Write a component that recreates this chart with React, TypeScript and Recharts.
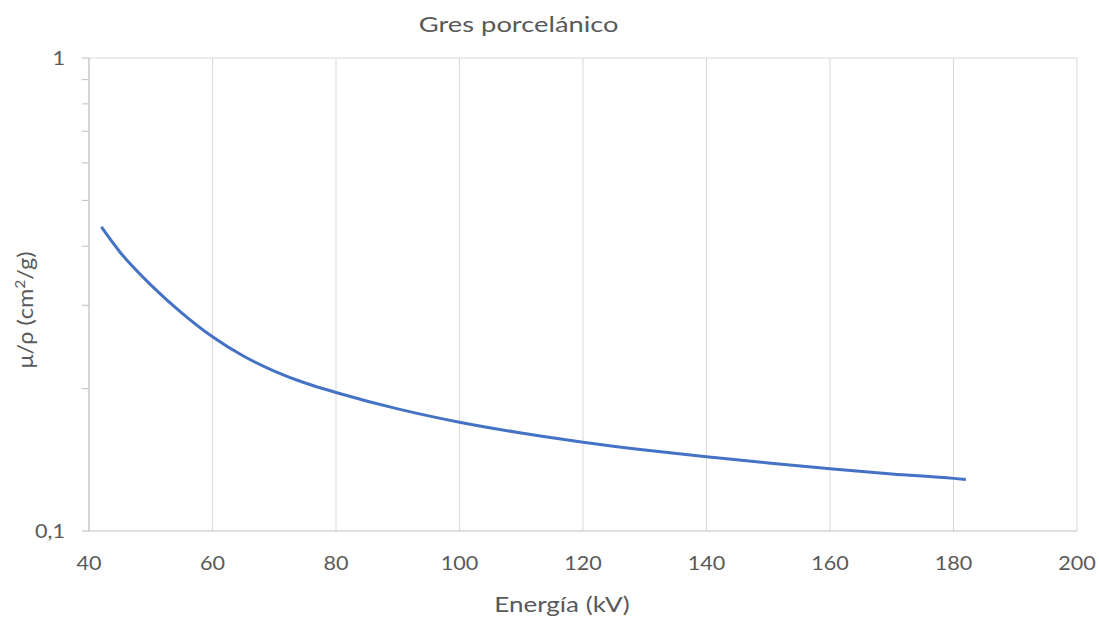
import { CartesianGrid, Label, Line, LineChart, ReferenceLine, XAxis, YAxis } from "recharts";

// Mass attenuation coefficient of porcelain stoneware vs. tube energy
const energyKv = [42, 45, 50, 55, 60, 65, 70, 75, 80, 90, 100, 110, 120, 130, 140, 150, 160, 170, 180, 182];
const muRho = [
  0.4393, 0.389, 0.3315, 0.2893, 0.2575, 0.2344, 0.2178, 0.2055, 0.1963, 0.1812, 0.1698, 0.1611, 0.1541,
  0.1484, 0.1436, 0.1393, 0.1354, 0.132, 0.1292, 0.1285,
];

const xTicks = [40, 60, 80, 100, 120, 140, 160, 180, 200];
// log axis: only the decades get a label, the rest are minor tick marks
const yTicks = [0.1, 0.2, 0.3, 0.4, 0.5, 0.6, 0.7, 0.8, 0.9, 1];
const yLabels: Record<string, string> = { "0.1": "0,1", "1": "1" };

const data = energyKv.map((e, i) => ({ energy: e, mu: muRho[i] }));

const FONT = "Lato, 'Open Sans', sans-serif";
const TEXT = "#595959";
const AXIS = "#bfbfbf";
const GRID = "#d9d9d9";

function YTick(props: any) {
  const { x, y, payload } = props;
  const label = yLabels[String(payload.value)];
  if (!label) return <g />;
  return (
    <text
      x={x}
      y={y}
      dy={7}
      textAnchor="end"
      fill={TEXT}
      fontSize={20}
      fontFamily={FONT}
      transform={`translate(${x} 0) scale(1.08 1) translate(${-x} 0)`}
    >
      {label}
    </text>
  );
}

function XTick(props: any) {
  const { x, y, payload } = props;
  return (
    <text
      x={x}
      y={y}
      dy={31}
      textAnchor="middle"
      fill={TEXT}
      fontSize={20}
      fontFamily={FONT}
      transform={`translate(${x} 0) scale(1.08 1) translate(${-x} 0)`}
    >
      {payload.value}
    </text>
  );
}

export default function App() {
  return (
    <div style={{ position: "absolute", left: 0, top: 0, width: 1099, height: 622, background: "#fff" }}>
      <div
        style={{
          position: "absolute",
          left: 0,
          top: 11,
          width: 1037,
          textAlign: "center",
          fontFamily: FONT,
          fontSize: 21,
          color: TEXT,
          transform: "scaleX(1.3)",
          transformOrigin: "518px 0",
        }}
      >
        Gres porcelánico
      </div>
      <LineChart width={1099} height={622} data={data} margin={{ top: 58, right: 22, bottom: 0, left: 0 }}>
        <CartesianGrid horizontal={false} stroke={GRID} />
        <ReferenceLine y={1} stroke={GRID} />
        <XAxis
          dataKey="energy"
          type="number"
          domain={[40, 200]}
          ticks={xTicks}
          interval={0}
          allowDataOverflow
          height={91}
          tickLine={false}
          axisLine={{ stroke: AXIS }}
          tick={<XTick />}
        >
          <Label
            content={() => (
              <text
                x={562}
                y={612}
                textAnchor="middle"
                fill={TEXT}
                fontSize={21}
                fontFamily={FONT}
                transform="translate(562 0) scale(1.24 1) translate(-562 0)"
              >
                Energía (kV)
              </text>
            )}
          />
        </XAxis>
        <YAxis
          scale="log"
          domain={[0.1, 1]}
          ticks={yTicks}
          interval={0}
          allowDataOverflow
          width={89}
          tickSize={7}
          tickMargin={17}
          tickLine={{ stroke: AXIS }}
          axisLine={{ stroke: AXIS }}
          tick={<YTick />}
        >
          <Label
            content={() => (
              <text
                x={0}
                y={0}
                transform="translate(33 310) rotate(-90) scale(1.12 1)"
                textAnchor="middle"
                fill={TEXT}
                fontSize={21}
                fontFamily={FONT}
              >
                μ/ρ (cm<tspan dy={-8} fontSize={14}>2</tspan>
                <tspan dy={8}>/g)</tspan>
              </text>
            )}
          />
        </YAxis>
        <Line
          type="monotone"
          dataKey="mu"
          stroke="#4472c4"
          strokeWidth={3}
          dot={false}
          isAnimationActive={false}
        />
      </LineChart>
    </div>
  );
}
